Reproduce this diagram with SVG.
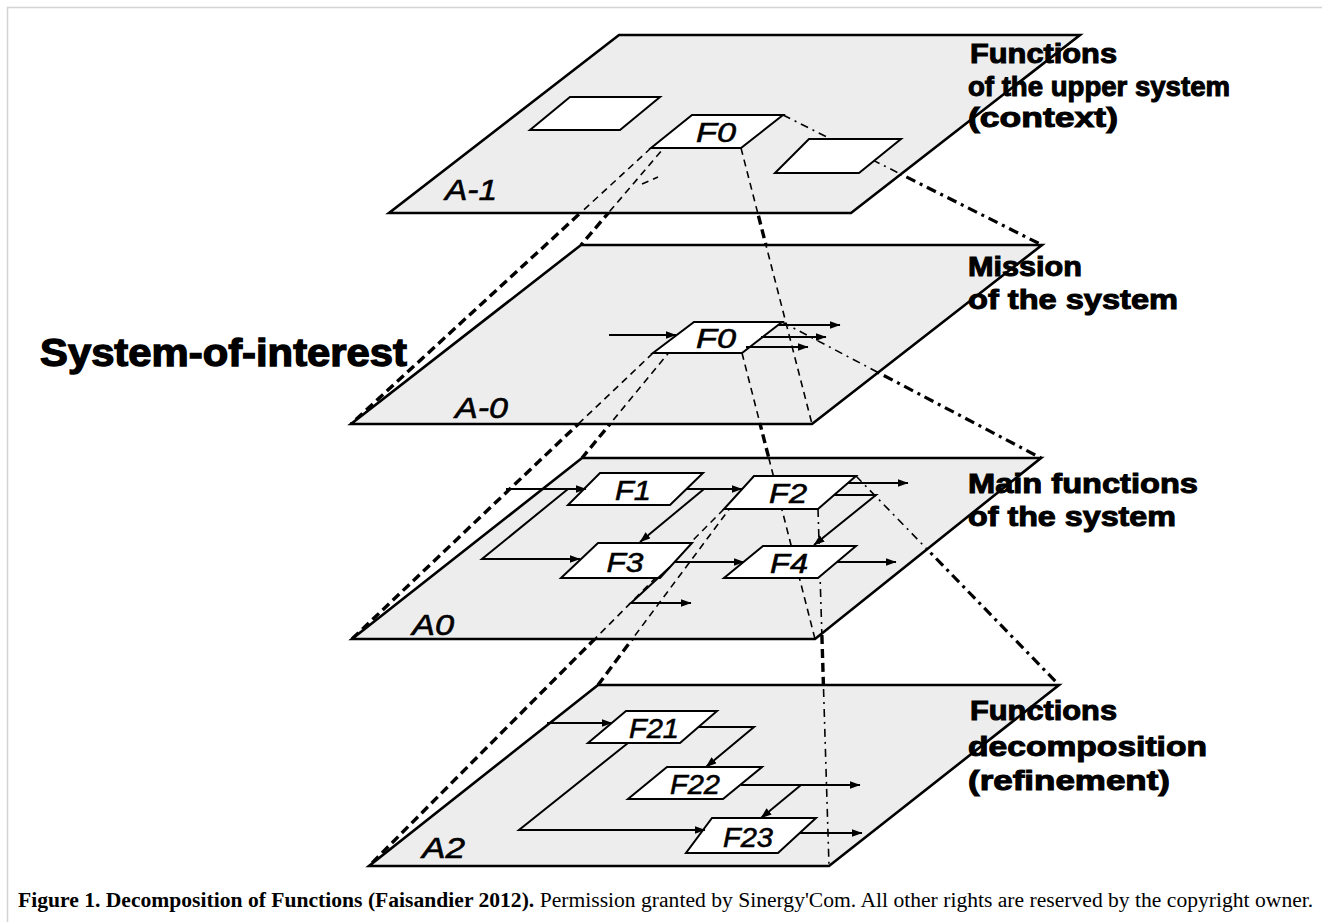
<svg xmlns="http://www.w3.org/2000/svg" width="1322" height="922" viewBox="0 0 1322 922">
<defs>
<style>
.plane{fill:#ededed;stroke:#000;stroke-width:2.6;stroke-linejoin:miter}
.box{fill:#fff;stroke:#000;stroke-width:2}
.dk{fill:none;stroke:#000;stroke-width:3.4;stroke-dasharray:9 5}
.dkd{fill:none;stroke:#000;stroke-width:3.2;stroke-dasharray:10 5 3 5}
.dt{fill:none;stroke:#000;stroke-width:1.6;stroke-dasharray:7 5}
.dtd{fill:none;stroke:#000;stroke-width:1.6;stroke-dasharray:8 5 2 5}
.arr{fill:none;stroke:#000;stroke-width:2;marker-end:url(#ah)}
.fl{font-family:"Liberation Sans",Arial,sans-serif;font-style:italic;font-size:28px;fill:#000;stroke:#000;stroke-width:0.6;text-anchor:middle}
.pl{font-family:"Liberation Sans",Arial,sans-serif;font-style:italic;font-size:30px;fill:#000;stroke:#000;stroke-width:0.6}
.side{font-family:"Liberation Sans",Arial,sans-serif;font-weight:bold;font-size:27px;fill:#000;stroke:#000;stroke-width:1}
.soi{font-family:"Liberation Sans",Arial,sans-serif;font-weight:bold;font-size:38px;fill:#000;stroke:#000;stroke-width:1.3}
.cap{font-family:"Liberation Serif","Times New Roman",serif;font-size:21.6px;fill:#000}
</style>
<marker id="ah" viewBox="0 0 11 8" refX="10.5" refY="4" markerWidth="11" markerHeight="8" orient="auto" markerUnits="userSpaceOnUse"><path d="M0,0 L11,4 L0,8 z" fill="#000"/></marker>
<clipPath id="planeclip">
<polygon points="619,35 1080,35 851,213 389,213"/>
<polygon points="581,245 1042,245 812,424 351,424"/>
<polygon points="582,458 1041,458 815,639 352,639"/>
<polygon points="598,685 1059,685 829,866 369,866"/>
</clipPath>
</defs>
<rect width="1322" height="922" fill="#fff"/>
<path d="M7.5,922 V7.5 H1322" fill="none" stroke="#d4d4d4" stroke-width="1.5"/>

<g id="connectors-gap">
<line class="dk" x1="651" y1="148" x2="351" y2="424"/>
<line class="dk" x1="692" y1="115" x2="581" y2="245"/>
<line class="dk" x1="741" y1="148" x2="812" y2="424"/>
<line class="dkd" x1="783" y1="115" x2="1042" y2="245"/>
<line class="dk" x1="653" y1="353" x2="352" y2="639"/>
<line class="dk" x1="694" y1="322" x2="582" y2="458"/>
<line class="dk" x1="742" y1="353" x2="815" y2="639"/>
<line class="dkd" x1="782" y1="322" x2="1041" y2="458"/>
<line class="dk" x1="724" y1="509" x2="369" y2="866"/>
<line class="dk" x1="754" y1="476" x2="598" y2="685"/>
<line class="dk" x1="818" y1="509" x2="829" y2="866"/>
<line class="dkd" x1="856" y1="476" x2="1059" y2="685"/>
</g>

<g id="plane-A-1">
<polygon class="plane" points="619,35 1080,35 851,213 389,213"/>
<text class="pl" x="445" y="200" textLength="52" lengthAdjust="spacingAndGlyphs">A-1</text>
</g>
<g id="plane-A-0">
<polygon class="plane" points="581,245 1042,245 812,424 351,424"/>
<text class="pl" x="455" y="418" textLength="53" lengthAdjust="spacingAndGlyphs">A-0</text>
</g>
<g id="plane-A0">
<polygon class="plane" points="582,458 1041,458 815,639 352,639"/>
<text class="pl" x="412" y="635" textLength="42" lengthAdjust="spacingAndGlyphs">A0</text>
</g>
<g id="plane-A2">
<polygon class="plane" points="598,685 1059,685 829,866 369,866"/>
<text class="pl" x="422" y="858" textLength="43" lengthAdjust="spacingAndGlyphs">A2</text>
</g>

<g id="connectors-plane" clip-path="url(#planeclip)">
<line class="dt" x1="651" y1="148" x2="351" y2="424"/>
<line class="dt" x1="692" y1="115" x2="581" y2="245"/>
<line class="dt" x1="741" y1="148" x2="812" y2="424"/>
<line class="dtd" x1="783" y1="115" x2="1042" y2="245"/>
<line class="dt" x1="653" y1="353" x2="352" y2="639"/>
<line class="dt" x1="694" y1="322" x2="582" y2="458"/>
<line class="dt" x1="742" y1="353" x2="815" y2="639"/>
<line class="dtd" x1="782" y1="322" x2="1041" y2="458"/>
<line class="dt" x1="724" y1="509" x2="369" y2="866"/>
<line class="dt" x1="754" y1="476" x2="598" y2="685"/>
<line class="dtd" x1="818" y1="509" x2="829" y2="866"/>
<line class="dtd" x1="856" y1="476" x2="1059" y2="685"/>
<line class="dt" x1="642" y1="184" x2="658" y2="177"/>
</g>

<g id="blank-1"><polygon class="box" points="570,97 660,97 620,130 530,130"/></g>
<g id="blank-2"><polygon class="box" points="809,139 901,139 859,173 775,173"/></g>
<g id="F0-upper"><polygon class="box" points="692,115 783,115 741,148 651,148"/><text class="fl" x="716" y="142" textLength="40" lengthAdjust="spacingAndGlyphs">F0</text></g>
<g id="F0-mission"><polygon class="box" points="694,322 782,322 742,353 653,353"/><text class="fl" x="716" y="348" textLength="40" lengthAdjust="spacingAndGlyphs">F0</text></g>
<g id="F1"><polygon class="box" points="600,473 703,473 670,505 568,505"/><text class="fl" x="633" y="500" textLength="36" lengthAdjust="spacingAndGlyphs">F1</text></g>
<g id="F2"><polygon class="box" points="754,476 856,476 818,509 724,509"/><text class="fl" x="788" y="503" textLength="38" lengthAdjust="spacingAndGlyphs">F2</text></g>
<g id="F3"><polygon class="box" points="598,543 692,543 660,578 561,578"/><text class="fl" x="625" y="572" textLength="37" lengthAdjust="spacingAndGlyphs">F3</text></g>
<g id="F4"><polygon class="box" points="763,546 856,546 818,578 724,578"/><text class="fl" x="789" y="573" textLength="38" lengthAdjust="spacingAndGlyphs">F4</text></g>
<g id="F21"><polygon class="box" points="626,711 717,711 680,743 588,743"/><text class="fl" x="654" y="738" textLength="50" lengthAdjust="spacingAndGlyphs">F21</text></g>
<g id="F22"><polygon class="box" points="667,767 762,767 723,799 628,799"/><text class="fl" x="695" y="794" textLength="50" lengthAdjust="spacingAndGlyphs">F22</text></g>
<g id="F23"><polygon class="box" points="712,818 816,818 778,853 686,853"/><text class="fl" x="748" y="847" textLength="50" lengthAdjust="spacingAndGlyphs">F23</text></g>

<g id="flows">
<line class="arr" x1="609" y1="335" x2="676" y2="335"/>
<line class="arr" x1="778" y1="325" x2="840" y2="325"/>
<line class="arr" x1="761" y1="337" x2="826" y2="337"/>
<line class="arr" x1="746" y1="347" x2="808" y2="347"/>

<line class="arr" x1="506" y1="489" x2="586" y2="489"/>
<polyline class="arr" points="568,489 482,559 580,559"/>
<line class="arr" x1="686" y1="489" x2="742" y2="489"/>
<line class="arr" x1="704" y1="489" x2="640" y2="542"/>
<line class="arr" x1="848" y1="483" x2="908" y2="483"/>
<polyline class="arr" points="834,495 876,495 814,545"/>
<line class="arr" x1="674" y1="562" x2="744" y2="562"/>
<line class="arr" x1="837" y1="562" x2="896" y2="562"/>
<polyline class="arr" points="670,567 631,603 691,603"/>

<line class="arr" x1="547" y1="723" x2="612" y2="723"/>
<polyline class="arr" points="698,727 754,727 706,767"/>
<polyline class="arr" points="628,743 519,830 705,830"/>
<line class="arr" x1="741" y1="785" x2="860" y2="785"/>
<line class="arr" x1="801" y1="785" x2="761" y2="818"/>
<line class="arr" x1="800" y1="833" x2="862" y2="833"/>
</g>

<g id="labels">
<text class="side" x="970" y="63" textLength="147" lengthAdjust="spacingAndGlyphs">Functions</text>
<text class="side" x="968" y="96" textLength="262" lengthAdjust="spacingAndGlyphs">of the upper system</text>
<text class="side" x="968" y="127" textLength="150" lengthAdjust="spacingAndGlyphs">(context)</text>
<text class="side" x="968" y="276" textLength="114" lengthAdjust="spacingAndGlyphs">Mission</text>
<text class="side" x="968" y="309" textLength="210" lengthAdjust="spacingAndGlyphs">of the system</text>
<text class="side" x="968" y="493" textLength="230" lengthAdjust="spacingAndGlyphs">Main functions</text>
<text class="side" x="968" y="526" textLength="208" lengthAdjust="spacingAndGlyphs">of the system</text>
<text class="side" x="970" y="720" textLength="147" lengthAdjust="spacingAndGlyphs">Functions</text>
<text class="side" x="968" y="756" textLength="239" lengthAdjust="spacingAndGlyphs">decomposition</text>
<text class="side" x="968" y="790" textLength="202" lengthAdjust="spacingAndGlyphs">(refinement)</text>
<text class="soi" x="40" y="366" textLength="367" lengthAdjust="spacingAndGlyphs">System-of-interest</text>
</g>

<g id="caption">
<text class="cap" x="18" y="907"><tspan font-weight="bold">Figure 1. Decomposition of Functions (Faisandier 2012).</tspan> Permission granted by Sinergy'Com. All other rights are reserved by the copyright owner.</text>
</g>
</svg>
